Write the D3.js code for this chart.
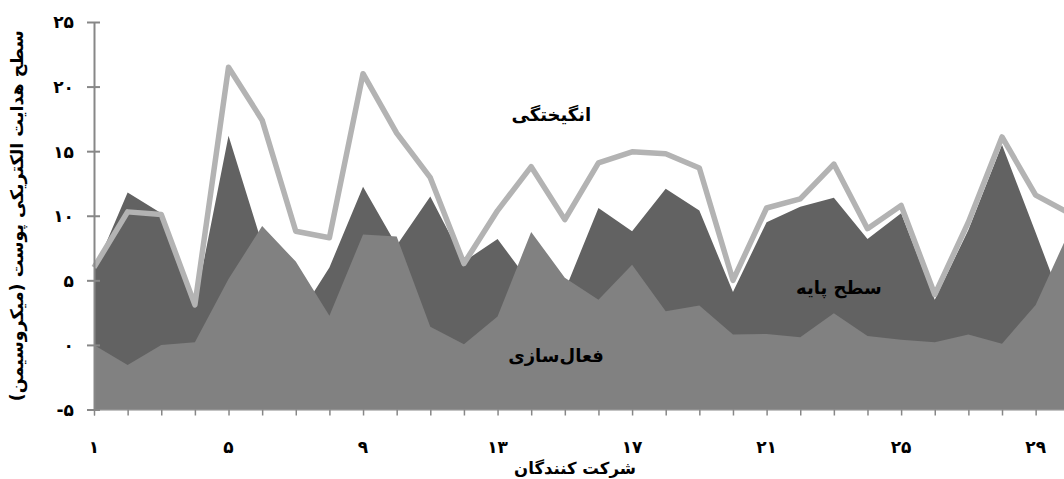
<!DOCTYPE html>
<html>
<head>
<meta charset="utf-8">
<script src="https://cdn.jsdelivr.net/npm/d3@7/dist/d3.min.js"></script>
<style>
  html, body { margin: 0; padding: 0; background: #fff; }
  svg { display: block; }
  text { font-family: "DejaVu Sans", sans-serif; font-weight: bold; fill: #000; }
</style>
</head>
<body>
<svg id="chart" width="1064" height="479"></svg>
<script>
// Participants 1..30
const participants = d3.range(1, 31);
// Baseline (سطح پایه)
const baseline = [5.7, 11.8, 10.2, 3.0, 16.2, 7.8, 1.9, 6.0, 12.25, 7.7,
                  11.5, 6.45, 8.2, 4.7, 4.2, 10.6, 8.8, 12.1, 10.4, 4.1,
                  9.5, 10.7, 11.4, 8.2, 10.2, 3.5, 8.9, 15.5, 8.7, 1.8];
// Activation (فعال‌سازی)
const activation = [0, -1.55, 0, 0.2, 5.1, 9.2, 6.45, 2.25, 8.55, 8.4,
                    1.4, 0.05, 2.2, 8.75, 5.2, 3.5, 6.2, 2.6, 3.05, 0.8,
                    0.85, 0.6, 2.45, 0.7, 0.4, 0.2, 0.8, 0.1, 3.1, 8.8];
// Arousal (انگیختگی)
const arousal = [6.0, 10.3, 10.1, 3.1, 21.5, 17.4, 8.8, 8.3, 21.0, 16.4,
                 12.95, 6.3, 10.4, 13.8, 9.7, 14.1, 14.95, 14.8, 13.7, 5.0,
                 10.6, 11.3, 14.0, 9.0, 10.8, 3.9, 9.5, 16.1, 11.6, 10.2];

const yTicks = [-5, 0, 5, 10, 15, 20, 25];
const yTickLabels = ["-۵", "۰", "۵", "۱۰", "۱۵", "۲۰", "۲۵"];
const xTicks = [1, 5, 9, 13, 17, 21, 25, 29];
const xTickLabels = ["۱", "۵", "۹", "۱۳", "۱۷", "۲۱", "۲۵", "۲۹"];

const yTitle = "سطح هدایت الکتریکی پوست (میکروسیمن)";
const xTitle = "شرکت کنندگان";
const seriesLabels = { baseline: "سطح پایه", activation: "فعال‌سازی", arousal: "انگیختگی" };

const svg = d3.select("#chart");
const x = d3.scaleLinear().domain([1, 30]).range([94, 94 + 29 * 33.63]);
const y = d3.scaleLinear().domain([-5, 25]).range([409.5, 22]);

const axisColor = "#878787";

const areaGen = vals => d3.area()
  .x((d, i) => x(participants[i]))
  .y0(y(-5))
  .y1(d => y(d))(vals);

svg.append("path").attr("d", areaGen(baseline)).attr("fill", "#626262");
svg.append("path").attr("d", areaGen(activation)).attr("fill", "#818181");

svg.append("path")
  .attr("d", d3.line().x((d, i) => x(participants[i])).y(d => y(d))(arousal))
  .attr("fill", "none")
  .attr("stroke", "#b3b3b3")
  .attr("stroke-width", 5.5)
  .attr("stroke-linejoin", "round");

// Y axis
const yAxis = d3.axisLeft(y).tickValues(yTicks).tickSize(0).tickFormat("");
const yg = svg.append("g").attr("transform", `translate(${x(1)},0)`).call(yAxis);
yg.select(".domain").attr("stroke", axisColor).attr("stroke-width", 2);
yg.selectAll(".tick").append("line")
  .attr("x1", -7).attr("x2", 6).attr("y1", 0).attr("y2", 0)
  .attr("stroke", axisColor).attr("stroke-width", 2);
yg.selectAll(".tick").append("text")
  .attr("x", -20).attr("dy", "0.35em")
  .attr("text-anchor", "end")
  .attr("direction", "ltr")
  .style("font-size", "17px")
  .text((d, i) => yTickLabels[i]);

// X axis
const xAxis = d3.axisBottom(x).tickValues(participants).tickSize(6).tickFormat("");
const xg = svg.append("g").attr("transform", `translate(0,${y(-5)})`).call(xAxis);
xg.select(".domain").attr("stroke", axisColor).attr("stroke-width", 1);
xg.selectAll(".tick line").attr("stroke", axisColor).attr("stroke-width", 1.5);
xg.selectAll(".tickLabel").data(xTicks).enter().append("text")
  .attr("x", d => x(d)).attr("y", 43)
  .attr("text-anchor", "middle")
  .style("font-size", "17px")
  .text((d, i) => xTickLabels[i]);

// Axis titles
svg.append("text")
  .attr("transform", `translate(23,${(y(25) + y(-5)) / 2}) rotate(-90)`)
  .attr("text-anchor", "middle")
  .attr("direction", "rtl")
  .style("font-size", "17.5px")
  .text(yTitle);

svg.append("text")
  .attr("x", 575).attr("y", 474)
  .attr("text-anchor", "middle")
  .attr("direction", "rtl")
  .style("font-size", "16.5px")
  .text(xTitle);

// Series labels
const lbl = (txt, cx, cy) => svg.append("text")
  .attr("x", cx).attr("y", cy)
  .attr("text-anchor", "middle")
  .attr("direction", "rtl")
  .style("font-size", "18px")
  .text(txt);
lbl(seriesLabels.arousal, x(14.6), y(17.3));
lbl(seriesLabels.activation, x(14.74), y(-1.3));
lbl(seriesLabels.baseline, x(23.15), y(3.95));
</script>
</body>
</html>
